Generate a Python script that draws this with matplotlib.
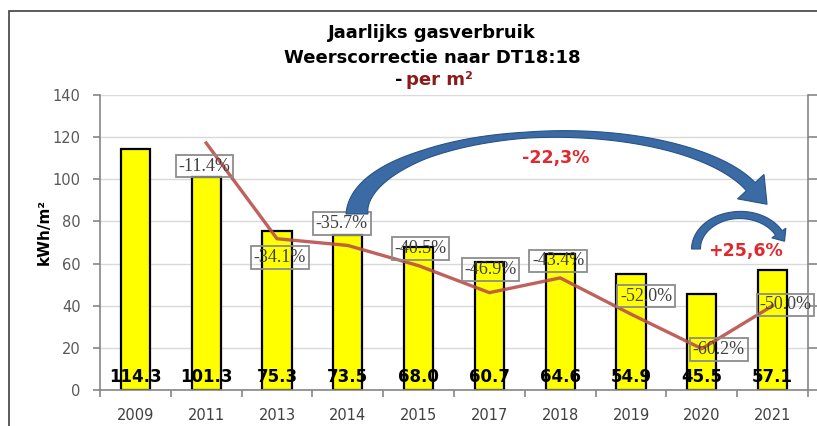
import numpy as np
import matplotlib
matplotlib.use('Agg')
import matplotlib.pyplot as plt
from matplotlib.patches import Polygon, Rectangle

# gegevens
years = ['2009', '2011', '2013', '2014', '2015', '2017', '2018', '2019', '2020', '2021']
verbruik = [114.3, 101.3, 75.3, 73.5, 68.0, 60.7, 64.6, 54.9, 45.5, 57.1]
# verandering t.o.v. 2009 (vanaf 2011)
pct = [-11.4, -34.1, -35.7, -40.5, -46.9, -43.4, -52.0, -60.2, -50.0]
# plaats van de percentagelabels (pixels t.o.v. punt)
pct_offsets = [(-2, -23), (3, -19), (-6, 22), (2, 17), (1, 23),
               (-2, 17), (15, 18), (17, -1), (13, 1)]

W, H = 817, 426
fig = plt.figure(figsize=(W / 100, H / 100), dpi=100)
fig.patch.set_facecolor('white')
ax = fig.add_axes([100 / W, (H - 390) / H, 708 / W, 295 / H])

x = np.arange(len(years))
ax.bar(x, verbruik, width=0.41, color='#FFFF00', edgecolor='black',
       linewidth=1.6, zorder=2)
ax.set_xlim(-0.5, len(years) - 0.5)
ax.set_ylim(0, 140)
ax.set_yticks(range(0, 141, 20))
ax.yaxis.grid(True, color='#d9d9d9', linewidth=1)
ax.set_axisbelow(True)
for s in ['top', 'right']:
    ax.spines[s].set_visible(False)
for s in ['left', 'bottom']:
    ax.spines[s].set_color('#868686')
    ax.spines[s].set_linewidth(1.2)

ax.set_xticks(x, years)
ax.set_xticks(np.arange(-0.5, len(years)), minor=True)
ax.tick_params(axis='x', which='major', length=0, pad=13, labelsize=10.5,
               labelcolor='#404040')
ax.tick_params(axis='x', which='minor', length=5, color='#868686', width=1.2)
ax.tick_params(axis='y', length=5, color='#868686', width=1.2, pad=9,
               labelsize=10.5, labelcolor='#595959')

fig.text(44 / W, 1 - 232 / H, 'kWh/m²', rotation=90, ha='center', va='center',
         fontsize=11, fontweight='bold')

for xi, v in zip(x, verbruik):
    ax.annotate(f'{v:.1f}', (xi, 0), xytext=(0, 8), textcoords='offset pixels',
                ha='center', va='baseline', fontsize=12, fontweight='bold',
                color='black')

# lijn met procentuele verandering op tweede as
ax2 = ax.twinx()
ax2.set_ylim(-70, 0)
ax2.set_yticks(range(-70, 1, 10))
ax2.tick_params(axis='y', length=9, color='#868686', width=1.2, labelright=False)
for s in ['top', 'left', 'bottom']:
    ax2.spines[s].set_visible(False)
ax2.spines['right'].set_color('#868686')
ax2.spines['right'].set_linewidth(1.2)
ax2.plot(x[1:], pct, color='#B9504B', linewidth=2.4, alpha=0.9, zorder=3)
for xi, p, (dx, dy) in zip(x[1:], pct, pct_offsets):
    ax2.annotate(f'{p:.1f}%', (xi, p), xytext=(dx, dy), textcoords='offset pixels',
                 ha='center', va='center', fontsize=13, color='#404040',
                 family=['Liberation Serif', 'DejaVu Serif'],
                 bbox=dict(boxstyle='square,pad=0.15', fc='none', ec='#8c8c8c', lw=1.3))

# titel
fig.text(432 / W, 1 - 33 / H, 'Jaarlijks gasverbruik', ha='center', va='center',
         fontsize=13, fontweight='bold')
fig.text(432 / W, 1 - 58 / H, 'Weerscorrectie naar DT18:18', ha='center', va='center',
         fontsize=13, fontweight='bold')
fig.text(399 / W, 1 - 80 / H, '-', ha='center', va='center',
         fontsize=13, fontweight='bold')
fig.text(406 / W, 1 - 80 / H, 'per m²', ha='left', va='center',
         fontsize=13, fontweight='bold', color='#8B1A1A')

# kader
fig.add_artist(Rectangle((9 / W, -0.1), 1.2, (H - 11) / H + 0.1,
                         transform=fig.transFigure, fill=False,
                         ec='#404040', lw=1.2))


def curved_arrow(cx, cy, rx, ry, th0, th1, knots, widths, head_len, head_w):
    n = 100
    t = np.linspace(0, 1, n)
    th = np.radians(th0 + (th1 - th0) * t)
    px = cx + rx * np.cos(th)
    py = cy - ry * np.sin(th)
    tx = rx * np.sin(th)
    ty = ry * np.cos(th)
    norm = np.hypot(tx, ty)
    tx, ty = tx / norm, ty / norm
    nx, ny = -ty, tx
    w = np.interp(t, knots, widths)
    left = np.column_stack([px + nx * w / 2, py + ny * w / 2])
    right = np.column_stack([px - nx * w / 2, py - ny * w / 2])
    ex, ey = px[-1], py[-1]
    hl = (ex + nx[-1] * head_w / 2, ey + ny[-1] * head_w / 2)
    hr = (ex - nx[-1] * head_w / 2, ey - ny[-1] * head_w / 2)
    tip = (ex + tx[-1] * head_len, ey + ty[-1] * head_len)
    pts = np.vstack([left, [hl, tip, hr], right[::-1]])
    pts = np.column_stack([pts[:, 0] / W, 1 - pts[:, 1] / H])
    fig.add_artist(Polygon(pts, closed=True, transform=fig.transFigure,
                           fc='#3A6BA5', ec='#2A5284', lw=0.8, zorder=5))


curved_arrow(560, 214, 203, 80, 180, 20, [0, 0.3, 0.5, 0.8, 1],
             [22, 9, 6, 9, 12], 24, 36)
curved_arrow(740, 249, 44, 34, 180, 28, [0, 0.5, 1], [9, 7, 8], 10, 17)

fig.text(556 / W, 1 - 158 / H, '-22,3%', ha='center', va='center',
         fontsize=12.5, fontweight='bold', color='#E0282E')
fig.text(745 / W, 1 - 251 / H, '+25,6%', ha='center', va='center',
         fontsize=12.5, fontweight='bold', color='#E0282E')

fig.savefig('out.png', dpi=100)
